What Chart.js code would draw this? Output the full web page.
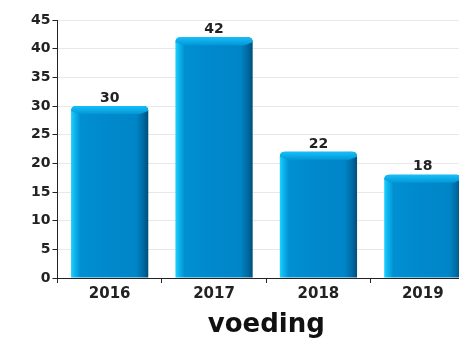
<!DOCTYPE html>
<html>
<head>
<meta charset="utf-8">
<script src="https://cdn.jsdelivr.net/npm/chart.js@4.4.1/dist/chart.umd.min.js"></script>
<style>
  html, body { margin: 0; padding: 0; background: #fff; overflow: hidden; }
  #wrap { width: 459px; height: 338px; overflow: hidden; }
  #box { width: 480px; height: 338px; }
</style>
</head>
<body>
<div id="wrap"><div id="box"><canvas id="chart"></canvas></div></div>
<script>
const years = ["2016", "2017", "2018", "2019"]
const counts = [30, 42, 22, 18]
const yTicks = [0, 5, 10, 15, 20, 25, 30, 35, 40, 45]
const axisTitle = "voeding"

const FONT = "'DejaVu Sans', sans-serif"

// 3D-ish bevel drawn for each bar
const bevelPlugin = {
  id: "bevel",
  afterDatasetsDraw(chart) {
    const ctx = chart.ctx
    const meta = chart.getDatasetMeta(0)
    ctx.save()
    meta.data.forEach(bar => {
      const left = bar.x - bar.width / 2
      const right = bar.x + bar.width / 2
      const top = bar.y
      const bottom = bar.base
      const r = 5
      const b = 8

      // body with horizontal shading
      const g = ctx.createLinearGradient(left, 0, right, 0)
      g.addColorStop(0, "#1ed2ff")
      g.addColorStop(0.04, "#10b8f0")
      g.addColorStop(0.12, "#0090d2")
      g.addColorStop(0.5, "#0088cc")
      g.addColorStop(0.84, "#0086c8")
      g.addColorStop(0.93, "#006ca4")
      g.addColorStop(1, "#004e7c")
      ctx.beginPath()
      ctx.moveTo(left, bottom)
      ctx.lineTo(left, top + r)
      ctx.quadraticCurveTo(left, top, left + r, top)
      ctx.lineTo(right - r, top)
      ctx.quadraticCurveTo(right, top, right, top + r)
      ctx.lineTo(right, bottom)
      ctx.closePath()
      ctx.fillStyle = g
      ctx.fill()

      // top bevel
      const tg = ctx.createLinearGradient(0, top, 0, top + b)
      tg.addColorStop(0, "#14c0f8")
      tg.addColorStop(1, "#0496d8")
      ctx.beginPath()
      ctx.moveTo(left + r, top)
      ctx.lineTo(right - r, top)
      ctx.quadraticCurveTo(right, top, right, top + r)
      ctx.lineTo(right - b, top + b)
      ctx.lineTo(left + b, top + b)
      ctx.lineTo(left, top + r)
      ctx.quadraticCurveTo(left, top, left + r, top)
      ctx.closePath()
      ctx.fillStyle = tg
      ctx.fill()
    })
    ctx.restore()
  }
}

const valueLabels = {
  id: "valueLabels",
  afterDraw(chart) {
    const ctx = chart.ctx
    const meta = chart.getDatasetMeta(0)
    ctx.save()
    ctx.font = "bold 14px " + FONT
    ctx.fillStyle = "#222"
    ctx.textAlign = "center"
    ctx.textBaseline = "bottom"
    meta.data.forEach((bar, i) => {
      ctx.fillText(String(counts[i]), bar.x, bar.y - 1)
    })
    ctx.restore()
  }
}

new Chart(document.getElementById("chart"), {
  type: "bar",
  data: {
    labels: years,
    datasets: [{
      data: counts,
      backgroundColor: "rgba(0,0,0,0)",
      barPercentage: 0.74,
      categoryPercentage: 1
    }]
  },
  options: {
    responsive: true,
    maintainAspectRatio: false,
    animation: false,
    layout: { padding: { top: 20, left: 29, right: 5, bottom: 0 } },
    plugins: {
      legend: { display: false },
      tooltip: { enabled: false }
    },
    scales: {
      y: {
        min: 0,
        max: 45,
        afterBuildTicks: axis => { axis.ticks = yTicks.map(v => ({ value: v })) },
        border: { color: "#222", width: 1 },
        grid: { color: "#e8e8e8", tickColor: "#222", tickLength: 5, lineWidth: 1 },
        ticks: { color: "#222", padding: 2, font: { family: FONT, size: 14, weight: "bold" } }
      },
      x: {
        border: { color: "#222", width: 1 },
        grid: { drawOnChartArea: false, tickColor: "#222", tickLength: 5, offset: true },
        ticks: { color: "#222", padding: 2, font: { family: FONT, size: 15, weight: "bold", lineHeight: 1.2 } },
        title: {
          display: true,
          text: axisTitle,
          color: "#111",
          padding: { top: 7, bottom: 0 },
          font: { family: FONT, size: 26, weight: "bold", lineHeight: 1 }
        }
      }
    }
  },
  plugins: [bevelPlugin, valueLabels]
})
</script>
</body>
</html>
